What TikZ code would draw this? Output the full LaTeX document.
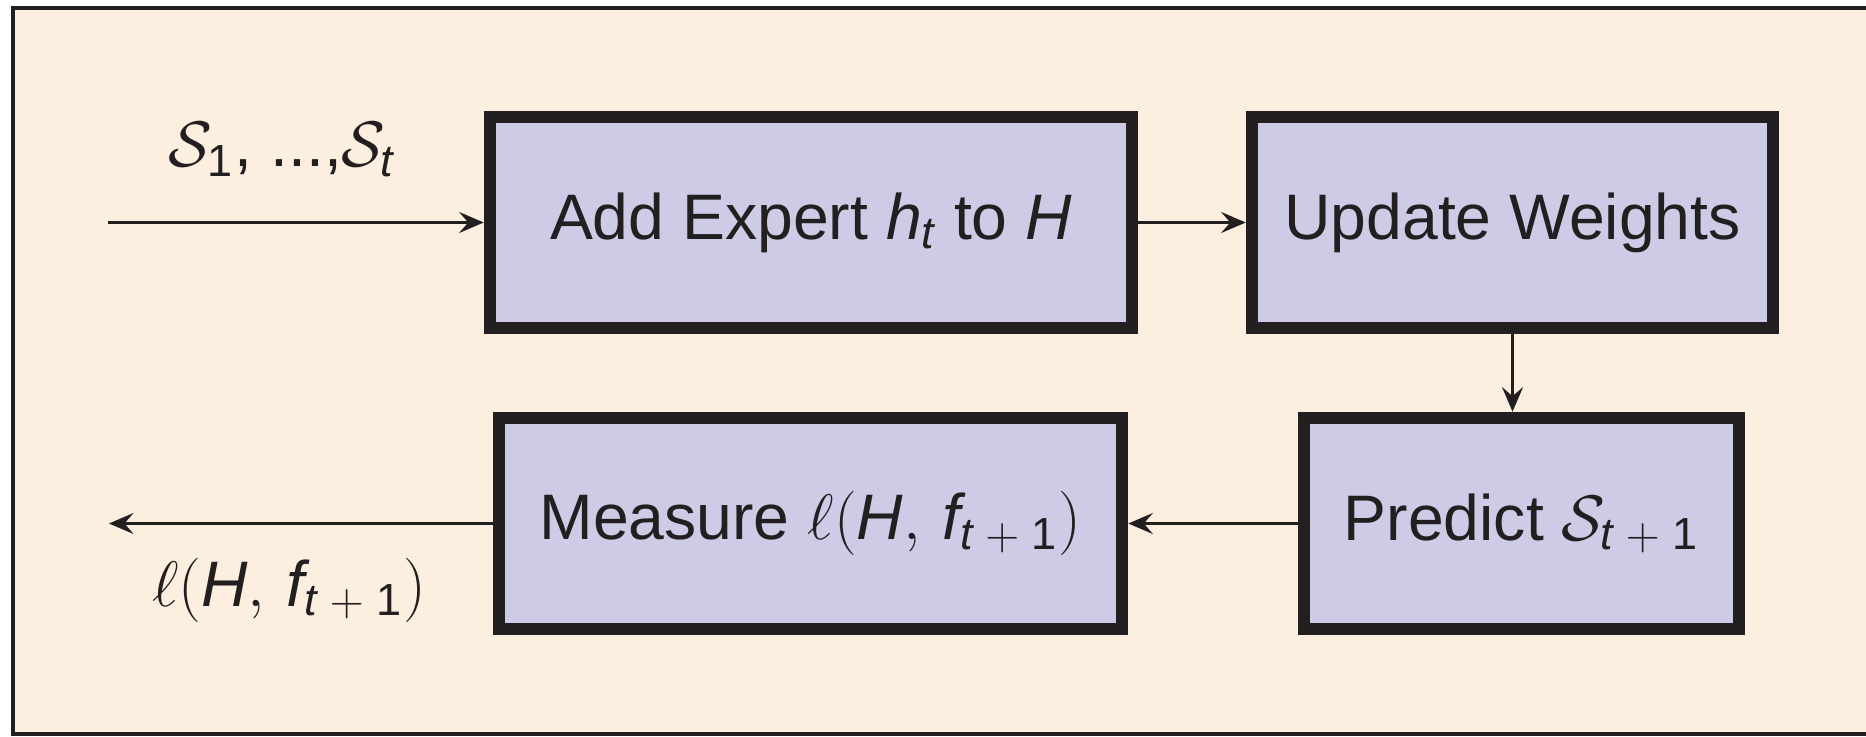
\RequirePackage{fix-cm}
\documentclass[tikz,border=0pt]{standalone}
\usepackage{fontspec}
\setmainfont{Liberation Sans}
\usetikzlibrary{arrows.meta}
\definecolor{cream}{HTML}{FDEFDF}
\definecolor{lilac}{HTML}{CDCBE6}
\definecolor{ink}{HTML}{231F20}
\newcommand{\mv}[1]{\mathit{#1}}
\newcommand{\tnext}{\mv{t}\;+\;\mathrm{1}}
\begin{document}
\begin{tikzpicture}
\tikzstyle{block}=[draw=ink,fill=lilac,line width=3.6pt,minimum height=2.11cm,inner sep=0pt,text=ink,font=\fontsize{18.3}{22}\selectfont]
\tikzstyle{link}=[ink,line width=0.6pt,-{Stealth[length=7pt,width=6pt,inset=2.6pt]}]
\tikzstyle{tag}=[text=ink,inner sep=0pt,font=\fontsize{18.3}{22}\selectfont]
\useasboundingbox (0,0) rectangle (18.66,7.36);

% ========= frame
\draw [ink,line width=1.2pt,fill=cream] (0.13,0.02) rectangle (19.2,7.28);

% ========= blocks
\node (addexp) [block,minimum width=6.42cm] at (8.11,5.135) {Add Expert $\mv{h}_{\mv{t}}$ to $\mv{H}$};
\node (update) [block,minimum width=5.21cm] at (15.125,5.135) {Update Weights};
\node (measure) [block,minimum width=6.23cm] at (8.105,2.125) {Measure $\ell(\mv{H},\,\mv{f}_{\tnext})$};
\node (predict) [block,minimum width=4.35cm] at (15.215,2.125) {Predict $\mathcal{S}_{\tnext}$};

\coordinate (in) at (1.08,5.135);
\coordinate (out) at (1.09,2.125);

% ====== connections
\draw [link] (in) -- (addexp);
\draw [link] (addexp) -- (update);
\draw [link] (update.south) -- (update.south |- predict.north);
\draw [link] (predict) -- (measure);
\draw [link] (measure) -- (out);

%% ===== labels
\node (inlbl) [tag] at (2.82,5.86) {$\mathcal{S}_{\mathrm{1}}$, ...,$\mathcal{S}_{\mv{t}}$};
\node (outlbl) [tag] at (2.89,1.46) {$\ell(\mv{H},\,\mv{f}_{\tnext})$};
\end{tikzpicture}
\end{document}
